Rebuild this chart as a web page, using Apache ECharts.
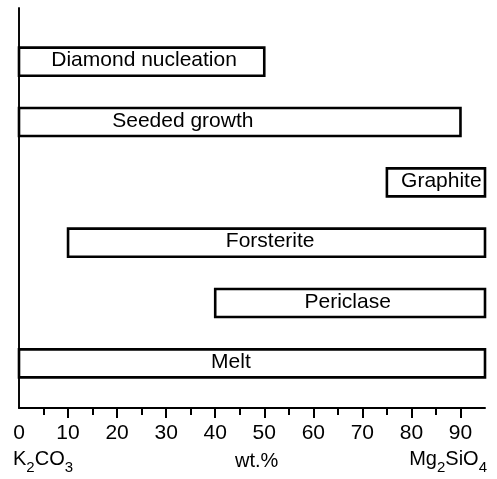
<!DOCTYPE html>
<html>
<head>
<meta charset="utf-8">
<script src="https://cdn.jsdelivr.net/npm/echarts@6/dist/echarts.min.js"></script>
<style>
  html, body { margin: 0; padding: 0; background: #fff; }
  #chart { width: 497px; height: 479px; }
</style>
</head>
<body>
<div id="chart"></div>
<script>
// Stability fields along the K2CO3 – Mg2SiO4 join (wt.%)
const phases     = ['Melt', 'Periclase', 'Forsterite', 'Graphite', 'Seeded growth', 'Diamond nucleation'];
const rangeStart = [0, 40, 10, 75, 0, 0];
const rangeEnd   = [95, 95, 95, 95, 90, 50];
const rowLevel   = [1, 2, 3, 4, 5, 6];

// Axis ticks (wt.%)
const majorTicks = [10, 20, 30, 40, 50, 60, 70, 80, 90];
const minorTicks = [5, 15, 25, 35, 45, 55, 65, 75, 85];
const tickLabels = [0, 10, 20, 30, 40, 50, 60, 70, 80, 90];

// Where each bar's caption sits, in wt.%
const captionAt  = [43.2, 67, 51.2, 86.1, 33.4, 25.5];

const FONT = 'Liberation Sans, Arial, Helvetica, sans-serif';

const chart = echarts.init(document.getElementById('chart'), null, { renderer: 'canvas' });

const seriesData = phases.map((name, i) => [rangeStart[i], rangeEnd[i], rowLevel[i], captionAt[i], name]);

const subRich = {
  m: { fontSize: 20, fontFamily: FONT, fill: '#000', color: '#000' },
  s: { fontSize: 15, fontFamily: FONT, fill: '#000', color: '#000', padding: [17, 0, 0, 0] }
};

const option = {
  animation: false,
  backgroundColor: '#fff',
  grid: { left: 19, right: 12, top: 8, bottom: 71, containLabel: false },
  xAxis: [
    {
      type: 'value', min: 0, max: 95,
      axisLine: { show: true, lineStyle: { color: '#000', width: 2 } },
      axisTick: { show: true, customValues: majorTicks, length: 10, lineStyle: { color: '#000', width: 2 } },
      axisLabel: { show: true, customValues: tickLabels, margin: 15, color: '#000', fontSize: 21, fontFamily: FONT },
      splitLine: { show: false }
    },
    {
      type: 'value', min: 0, max: 95, position: 'bottom',
      axisLine: { show: false },
      axisTick: { show: true, customValues: minorTicks, length: 7, lineStyle: { color: '#000', width: 2 } },
      axisLabel: { show: false },
      splitLine: { show: false }
    }
  ],
  yAxis: [
    {
      type: 'value', min: 0.26, max: 6.89, position: 'left',
      axisLine: { show: true, lineStyle: { color: '#000', width: 1.6 } },
      axisTick: { show: false }, axisLabel: { show: false }, splitLine: { show: false }
    },
    {
      type: 'value', min: 0.26, max: 6.89, position: 'right',
      axisLine: { show: true, lineStyle: { color: '#000', width: 1.6 } },
      axisTick: { show: false }, axisLabel: { show: false }, splitLine: { show: false }
    }
  ],
  graphic: [
    {
      type: 'text', left: 13, top: 449,
      style: { text: '{m|K}{s|2}{m|CO}{s|3}', rich: subRich }
    },
    {
      type: 'text', left: 235, top: 451,
      style: { text: 'wt.%', font: '20px ' + FONT, fill: '#000' }
    },
    {
      type: 'text', right: 10, top: 449,
      style: { text: '{m|Mg}{s|2}{m|SiO}{s|4}', rich: subRich }
    }
  ],
  series: [
    {
      type: 'custom',
      xAxisIndex: 0, yAxisIndex: 0,
      data: seriesData,
      renderItem: function (params, api) {
        const y = api.value(2);
        const p0 = api.coord([api.value(0), y]);
        const p1 = api.coord([api.value(1), y]);
        const pc = api.coord([api.value(3), y]);
        const h = api.size([0, 0.465])[1];
        return {
          type: 'group',
          children: [
            {
              type: 'rect',
              shape: { x: p0[0], y: p0[1] - h / 2, width: p1[0] - p0[0], height: h },
              style: { fill: '#fff', stroke: '#000', lineWidth: 2.6 }
            },
            {
              type: 'text',
              x: pc[0], y: pc[1] - 1,
              style: {
                text: api.value(4),
                font: '21px ' + FONT,
                fill: '#000',
                align: 'center',
                verticalAlign: 'middle'
              }
            }
          ]
        };
      }
    }
  ]
};

chart.setOption(option);
</script>
</body>
</html>
